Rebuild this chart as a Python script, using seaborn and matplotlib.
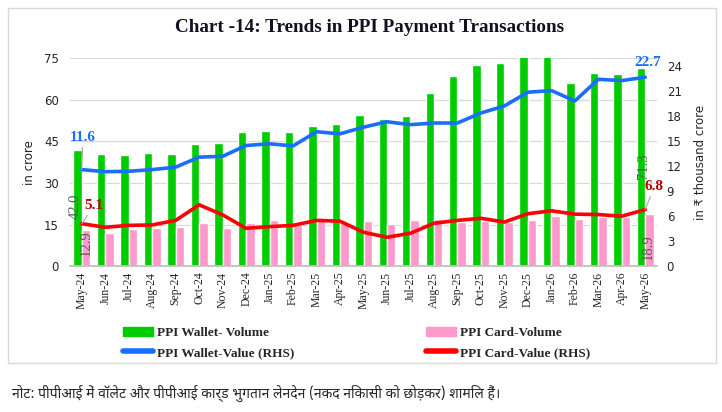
import numpy as np
import pandas as pd
import matplotlib
matplotlib.use("Agg")
import matplotlib.pyplot as plt
import seaborn as sns
from matplotlib.patches import Patch, Rectangle
from matplotlib.lines import Line2D


# ============================================================
# DATA
# ============================================================

months = ["May-24", "Jun-24", "Jul-24", "Aug-24", "Sep-24", "Oct-24", "Nov-24",
          "Dec-24", "Jan-25", "Feb-25", "Mar-25", "Apr-25", "May-25", "Jun-25",
          "Jul-25", "Aug-25", "Sep-25", "Oct-25", "Nov-25", "Dec-25", "Jan-26",
          "Feb-26", "Mar-26", "Apr-26", "May-26"]

wallet_volume = [42.0, 40.3, 39.9, 40.9, 40.4, 44.0, 44.5, 48.2, 48.6, 48.3,
                 50.5, 51.3, 54.6, 53.1, 54.1, 62.3, 68.5, 72.5, 73.1, 76.5,
                 76.0, 66.2, 69.5, 69.2, 71.3]
card_volume = [12.9, 12.0, 13.3, 13.7, 14.2, 15.5, 13.8, 15.5, 16.6, 15.0,
               16.8, 16.0, 16.2, 15.1, 16.8, 17.1, 16.0, 16.3, 15.9, 16.5,
               18.1, 17.0, 17.6, 17.6, 18.9]
wallet_value = [11.6, 11.35, 11.4, 11.6, 11.9, 13.1, 13.2, 14.5, 14.7, 14.45,
                16.15, 15.9, 16.7, 17.35, 17.0, 17.2, 17.2, 18.4, 19.25, 20.9,
                21.1, 19.85, 22.45, 22.3, 22.7]
card_value = [5.1, 4.67, 4.9, 4.95, 5.5, 7.37, 6.16, 4.55, 4.75, 4.9,
              5.5, 5.4, 4.07, 3.47, 3.95, 5.15, 5.5, 5.75, 5.3, 6.3,
              6.65, 6.25, 6.2, 6.0, 6.8]

series_names = ["PPI Wallet- Volume", "PPI Card-Volume",
                "PPI Wallet-Value (RHS)", "PPI Card-Value (RHS)"]

title = "Chart -14: Trends in PPI Payment Transactions"
note = "नोट: पीपीआई में वॉलेट और पीपीआई कार्ड भुगतान लेनदेन (नकद निकासी को छोड़कर) शामिल हैं।"

GREEN = "#00CC00"
PINK = "#FF99CC"
BLUE = "#1A6EFF"
RED = "#FF0000"
GRAY = "#595959"

# ============================================================
# PLOT
# ============================================================

sns.set_theme(style="white")
plt.rcParams["font.family"] = ["Liberation Serif", "DejaVu Serif"]

vol_df = pd.DataFrame({
    "month": months * 2,
    "value": wallet_volume + card_volume,
    "series": [series_names[0]] * len(months) + [series_names[1]] * len(months),
})
val_df = pd.DataFrame({
    "x": list(range(len(months))) * 2,
    "value": wallet_value + card_value,
    "series": [series_names[2]] * len(months) + [series_names[3]] * len(months),
})

fig = plt.figure(figsize=(7.22, 4.12), dpi=100)
ax = fig.add_axes([0.097, 0.354, 0.813, 0.505])

sns.barplot(data=vol_df, x="month", y="value", hue="series",
            palette=[GREEN, PINK], width=0.72, saturation=1,
            legend=False, ax=ax)

ax.set_ylim(0, 75)
ax.set_xlim(-0.5, len(months) - 0.5)
ax.set_yticks(np.arange(0, 76, 15))
ax.yaxis.grid(True, color="#d9d9d9", lw=0.9)
ax.set_axisbelow(True)
ax.set_xlabel("")
ax.set_ylabel("in crore", family="DejaVu Sans", fontsize=8.5, labelpad=6)
ax.tick_params(axis="y", length=0, labelsize=8.5, pad=8)
for lab in ax.get_yticklabels():
    lab.set_family("DejaVu Sans")
ax.tick_params(axis="x", length=0, labelsize=8.5, rotation=90, pad=4)
ax.set_xticks(np.arange(-0.5, len(months), 1), minor=True)
ax.tick_params(axis="x", which="minor", length=4, color="#bfbfbf", width=0.8)
for side in ["left", "right", "top"]:
    ax.spines[side].set_visible(False)
ax.spines["bottom"].set_color("#bfbfbf")

ax2 = ax.twinx()
sns.lineplot(data=val_df, x="x", y="value", hue="series",
             palette=[BLUE, RED], lw=2.6, legend=False, ax=ax2)
ax2.set_ylim(0, 25)
ax2.set_xlim(-0.5, len(months) - 0.5)
ax2.set_yticks(np.arange(0, 25, 3))
ax2.set_ylabel("in ₹ thousand crore", family="DejaVu Sans", fontsize=8.5, labelpad=9)
ax2.tick_params(axis="y", length=0, labelsize=8.5, pad=7)
for lab in ax2.get_yticklabels():
    lab.set_family("DejaVu Sans")
for side in ["left", "right", "top", "bottom"]:
    ax2.spines[side].set_visible(False)
ax2.grid(False)

# data labels at first and last month
first, last = 0, len(months) - 1
lead = dict(arrowstyle="-", color="#a6a6a6", lw=0.8, shrinkA=0, shrinkB=0)
ax2.annotate(f"{wallet_value[first]:.1f}", (first, wallet_value[first]),
             xytext=(1, 32), textcoords="offset pixels", ha="center", va="center",
             color=BLUE, fontsize=11, fontweight="bold", arrowprops=lead)
ax2.annotate(f"{card_value[first]:.1f}", (first, card_value[first]),
             xytext=(12, 18), textcoords="offset pixels", ha="center", va="center",
             color="#C00000", fontsize=11, fontweight="bold", arrowprops=lead)
ax.annotate(f"{wallet_volume[first]:.1f}", (first - 0.17, wallet_volume[first]),
            xytext=(-3, -57), textcoords="offset pixels", ha="center", va="center",
            rotation=90, color=GRAY, fontsize=10.5)
ax.annotate(f"{card_volume[first]:.1f}", (first + 0.17, card_volume[first]),
            xytext=(0, -13), textcoords="offset pixels", ha="center", va="center",
            rotation=90, color=GRAY, fontsize=10.5)

ax2.annotate(f"{wallet_value[last]:.1f}", (last, wallet_value[last]),
             xytext=(2, 15), textcoords="offset pixels", ha="center", va="center",
             color=BLUE, fontsize=11, fontweight="bold")
ax2.annotate(f"{card_value[last]:.1f}", (last, card_value[last]),
             xytext=(9, 23), textcoords="offset pixels", ha="center", va="center",
             color="#C00000", fontsize=11, fontweight="bold", arrowprops=lead)
ax.annotate(f"{wallet_volume[last]:.1f}", (last - 0.17, wallet_volume[last]),
            xytext=(2, -98), textcoords="offset pixels", ha="center", va="center",
            rotation=90, color=GRAY, fontsize=10.5)
ax.annotate(f"{card_volume[last]:.1f}", (last + 0.17, card_volume[last]),
            xytext=(-1, -33), textcoords="offset pixels", ha="center", va="center",
            rotation=90, color=GRAY, fontsize=10.5)

# frame, title, legend, note
fig.patches.append(Rectangle((0.011, 0.119), 0.98, 0.862, transform=fig.transFigure,
                             fill=False, edgecolor="#d9d9d9", lw=1))
fig.text(0.512, 0.934, title, ha="center", va="center",
         fontsize=13.8, fontweight="bold", color="#111122")

handles = [Patch(color=GREEN), Line2D([], [], color=BLUE, lw=4, solid_capstyle="round"),
           Patch(color=PINK), Line2D([], [], color=RED, lw=4, solid_capstyle="round")]
labels = [series_names[0], series_names[2], series_names[1], series_names[3]]
fig.legend(handles, labels, ncol=2, loc="center left",
           bbox_to_anchor=(123 / 722, (412 - 343) / 412),
           frameon=False, prop={"size": 9.5, "weight": "bold"},
           handlelength=2.25, handletextpad=0.3, borderpad=0, borderaxespad=0,
           columnspacing=10, labelspacing=0.55)

fig.text(0.016, 0.046, note, ha="left", va="center", fontsize=10, style="italic",
         family=["Noto Sans Devanagari", "Lohit Devanagari", "FreeSans",
                 "Noto Sans", "DejaVu Sans"])

fig.savefig("out.png", dpi=100)
